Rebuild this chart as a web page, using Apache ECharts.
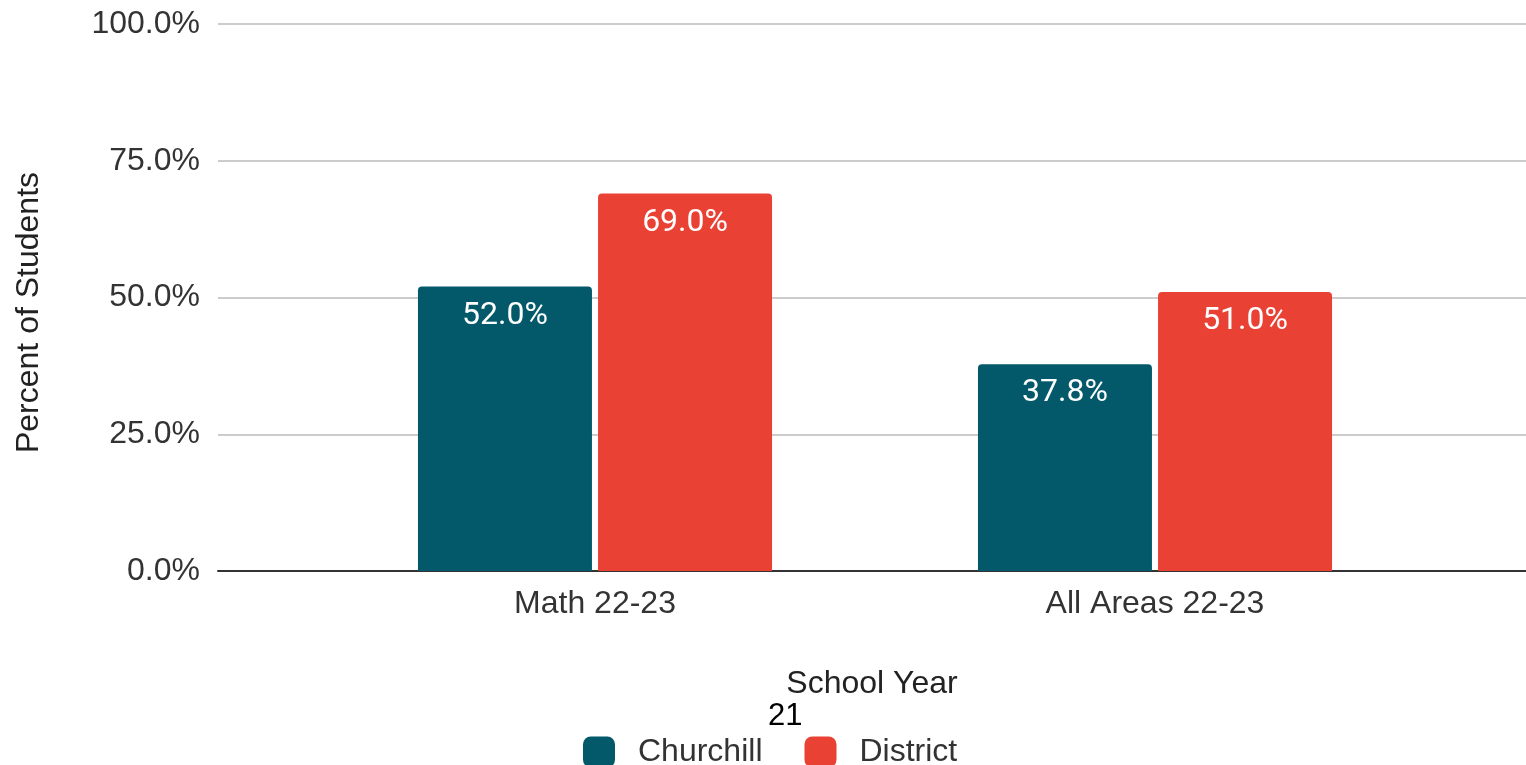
<!DOCTYPE html>
<html>
<head>
<meta charset="utf-8">
<script src="https://cdn.jsdelivr.net/npm/echarts@6/dist/echarts.min.js"></script>
<style>
  html, body { margin: 0; padding: 0; background: #fff; }
  #chart { width: 1526px; height: 765px; }
</style>
</head>
<body>
<div id="chart"></div>
<script>
// Share of students by assessment area, school vs. district
const categories = ['Math 22-23', 'All Areas 22-23'];
const churchill = [52.0, 37.8];
const district = [69.0, 51.0];
const yTicks = [0, 25, 50, 75, 100];
const seriesNames = ['Churchill', 'District'];
const colors = ['#03596a', '#e94235'];

const chart = echarts.init(document.getElementById('chart'));
const fontFamily = 'Liberation Sans, Arial, sans-serif';
const pct = v => v.toFixed(1) + '%';

const barLabel = {
  show: true,
  position: 'insideTop',
  distance: 13,
  color: '#ffffff',
  fontSize: 32,
  fontFamily: 'Roboto, sans-serif',
  formatter: p => pct(p.value)
};

chart.setOption({
  animation: false,
  backgroundColor: '#ffffff',
  color: colors,
  grid: [
    // frame grid: gridlines, value labels and baseline
    { left: 218, right: 0, top: 24, bottom: 194 },
    // bar grid
    { left: 315, right: 91, top: 24, bottom: 194 }
  ],
  legend: {
    data: seriesNames,
    top: 731,
    left: 578,
    itemWidth: 32,
    itemHeight: 31,
    itemGap: 42,
    icon: 'roundRect',
    textStyle: { fontSize: 32, color: '#333333', fontFamily: fontFamily, padding: [0, 0, 0, 18] }
  },
  xAxis: [
    {
      gridIndex: 0,
      type: 'category',
      data: [''],
      axisLine: { show: true, lineStyle: { color: '#333333', width: 2 } },
      axisTick: { show: false },
      axisLabel: { show: false },
      name: 'School Year',
      nameLocation: 'middle',
      nameGap: 97,
      nameTextStyle: { fontSize: 32, color: '#222222', fontFamily: fontFamily }
    },
    {
      gridIndex: 1,
      type: 'category',
      data: categories,
      axisLine: { show: false },
      axisTick: { show: false },
      axisLabel: { margin: 17, fontSize: 32, color: '#333333', fontFamily: fontFamily }
    }
  ],
  yAxis: [
    {
      gridIndex: 0,
      type: 'value',
      min: yTicks[0],
      max: yTicks[yTicks.length - 1],
      interval: 25,
      axisLine: { show: false },
      axisTick: { show: false },
      splitLine: { lineStyle: { color: '#cccccc', width: 2 } },
      axisLabel: { margin: 18, fontSize: 32, color: '#333333', fontFamily: fontFamily, formatter: v => pct(v) },
      name: 'Percent of Students',
      nameLocation: 'middle',
      nameGap: 173,
      nameTextStyle: { fontSize: 32, color: '#222222', fontFamily: fontFamily, padding: [0, 30, 0, 0] }
    },
    {
      gridIndex: 1,
      type: 'value',
      min: yTicks[0],
      max: yTicks[yTicks.length - 1],
      interval: 25,
      show: false,
      splitLine: { show: false }
    }
  ],
  series: [
    {
      name: seriesNames[0],
      type: 'bar',
      xAxisIndex: 1,
      yAxisIndex: 1,
      data: churchill,
      barWidth: 174,
      barGap: '3.5%',
      itemStyle: { color: colors[0], borderRadius: [4, 4, 0, 0] },
      label: barLabel
    },
    {
      name: seriesNames[1],
      type: 'bar',
      xAxisIndex: 1,
      yAxisIndex: 1,
      data: district,
      barWidth: 174,
      barGap: '3.5%',
      itemStyle: { color: colors[1], borderRadius: [4, 4, 0, 0] },
      label: barLabel
    }
  ],
  graphic: [
    {
      type: 'text',
      left: 768,
      top: 701,
      style: { text: '21', fontSize: 31, fill: '#000000', fontFamily: fontFamily }
    }
  ]
});
</script>
</body>
</html>
